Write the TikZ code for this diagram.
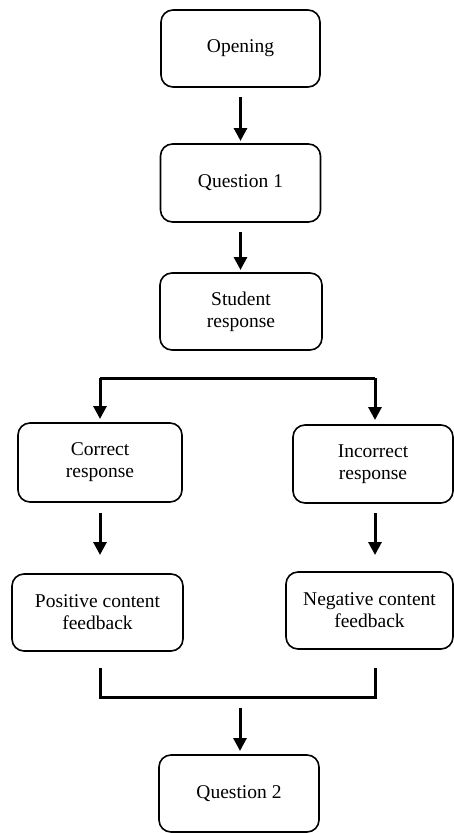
\documentclass[tikz,border=0pt]{standalone}
\usepackage{fontspec}
\setmainfont{Liberation Serif}
\usetikzlibrary{arrows.meta}
\begin{document}
\begin{tikzpicture}[x=1pt,y=-1pt,
  box/.style={draw=black, line width=1.6pt, rounded corners=12pt, align=center,
    inner sep=0pt, font=\fontsize{19.5}{22}\selectfont},
  arr/.style={line width=3pt, -{Triangle[width=13pt,length=13pt]}},
  brk/.style={line width=3pt}]
\useasboundingbox (0,0) rectangle (454,833);
\node[box, minimum width=159pt, minimum height=77pt] (open) at (240.5,48.5) {Opening};
\node[box, minimum width=160pt, minimum height=78pt] (q1) at (240.5,183) {Question 1};
\node[box, minimum width=162pt, minimum height=77pt] (stud) at (241,311.5) {Student\\response};
\node[box, minimum width=164pt, minimum height=79pt] (corr) at (100,462.5) {Correct\\response};
\node[box, minimum width=160pt, minimum height=78pt] (inc) at (373,464) {Incorrect\\response};
\node[box, minimum width=171pt, minimum height=77pt] (pos) at (97.5,612.5) {Positive content\\feedback};
\node[box, minimum width=167pt, minimum height=77pt] (neg) at (369.5,610.5) {Negative content\\feedback};
\node[box, minimum width=160pt, minimum height=77pt] (q2) at (239,793.5) {Question 2};
% vertical arrows
\coordinate (a1s) at (240.5,97);
\coordinate (a1e) at (240.5,141);
\draw[arr] (a1s) -- (a1e);
\coordinate (a2s) at (240.5,232);
\coordinate (a2e) at (240.5,270);
\draw[arr] (a2s) -- (a2e);
% split
\coordinate (bl) at (100,378);
\coordinate (br) at (375,378);
\coordinate (blt) at (100,419);
\coordinate (brt) at (375,420);
\draw[brk] (bl) -- (br);
\draw[arr] (bl) -- (blt);
\draw[arr] (br) -- (brt);
% middle arrows
\coordinate (c1s) at (100,513);
\coordinate (c1e) at (100,555);
\coordinate (c2s) at (375,513);
\coordinate (c2e) at (375,555);
\draw[arr] (c1s) -- (c1e);
\draw[arr] (c2s) -- (c2e);
% merge bracket
\coordinate (m1) at (100,668);
\coordinate (m2) at (100,697);
\coordinate (m3) at (375,697);
\coordinate (m4) at (375,668);
\draw[brk] (m1) -- (m2) -- (m3) -- (m4);
\coordinate (d1s) at (240,708);
\coordinate (d1e) at (240,751);
\draw[arr] (d1s) -- (d1e);
\end{tikzpicture}
\end{document}
